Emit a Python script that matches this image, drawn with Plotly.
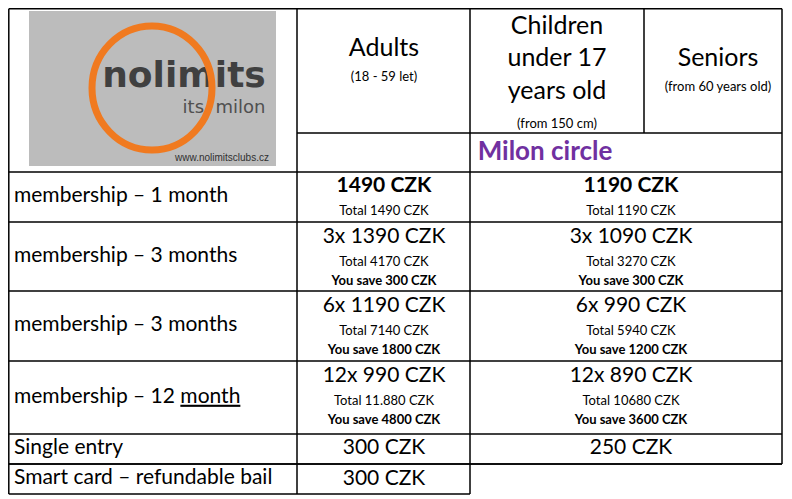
import plotly.graph_objects as go

FONT = "Lato"

# header texts
head_cols = ["Adults", "Children<br>under 17<br>years old", "Seniors"]
head_notes = ["(18 - 59 let)", "(from 150 cm)", "(from 60 years old)"]
group_label = "Milon circle"

# rows
row_labels = ["membership – 1 month", "membership – 3 months", "membership – 3 months",
              "membership – 12 <span style='text-decoration:underline'>month</span>",
              "Single entry", "Smart card – refundable bail"]
adult_price = ["<b>1490 CZK</b>", "3x 1390 CZK", "6x 1190 CZK", "12x 990 CZK", "300 CZK", "300 CZK"]
adult_total = ["Total 1490 CZK", "Total 4170 CZK", "Total 7140 CZK", "Total 11.880 CZK", "", ""]
adult_save = ["", "You save 300 CZK", "You save 1800 CZK", "You save 4800 CZK", "", ""]
child_price = ["<b>1190 CZK</b>", "3x 1090 CZK", "6x 990 CZK", "12x 890 CZK", "250 CZK", ""]
child_total = ["Total 1190 CZK", "Total 3270 CZK", "Total 5940 CZK", "Total 10680 CZK", "", ""]
child_save = ["", "You save 300 CZK", "You save 1200 CZK", "You save 3600 CZK", "", ""]

# layout grid (pixels)
row_tops = [172, 222, 291, 361, 434, 464]
row_bots = [222, 291, 361, 434, 464, 494]
x_adult, x_child = 384, 631

fig = go.Figure()

def txt(xs, ys, texts, size, color="black"):
    fig.add_trace(go.Scatter(x=xs, y=ys, text=texts, mode="text", textposition="middle center",
                             textfont=dict(family=FONT, size=size, color=color),
                             hoverinfo="skip", showlegend=False))

# header
txt([384, 557, 718], [50, 60, 60], head_cols, 25)
txt([384, 557, 718], [78, 125, 88], head_notes, 13)
txt([545], [153], ["<b>" + group_label + "</b>"], 26, "#7030A0")

for i, lab in enumerate(row_labels):
    top, bot = row_tops[i], row_bots[i]
    mid = (top + bot) / 2
    fig.add_trace(go.Scatter(x=[14], y=[mid], text=[lab], mode="text", textposition="middle right",
                             textfont=dict(family=FONT, size=21, color="black"),
                             hoverinfo="skip", showlegend=False))
    has_total = adult_total[i] != ""
    has_save = adult_save[i] != ""
    if has_save:
        py, ty, sy = top + 16, top + 41, top + 60
    elif has_total:
        py, ty, sy = top + 15, top + 40, None
    else:
        py, ty, sy = mid, None, None
    if i == 5:
        py = mid + 1
    txt([x_adult, x_child], [py, py], [adult_price[i], child_price[i]], 21)
    if ty:
        txt([x_adult, x_child], [ty, ty], [adult_total[i], child_total[i]], 13)
    if sy:
        txt([x_adult, x_child], [sy, sy], ["<b>" + adult_save[i] + "</b>", "<b>" + child_save[i] + "</b>"], 13)

# table lines
def seg(x0, y0, x1, y1, w=1.5):
    fig.add_shape(type="line", x0=x0, y0=y0, x1=x1, y1=y1, line=dict(color="black", width=w))

R = 782
seg(8.8, 8.8, R, 8.8)
seg(8.8, 8.8, 8.8, 494)
seg(297, 8.8, 297, 494)
seg(470, 8.8, 470, 494)
seg(644, 8.8, 644, 133)
seg(R, 8.8, R, 464)
seg(297, 133, R, 133)
for y in row_tops:
    seg(8.8, y, R, y)
seg(8.8, 464, R, 464)
seg(8.8, 494, 470, 494)

# logo
fig.add_shape(type="rect", x0=29, y0=11, x1=276, y1=166, fillcolor="#bcbcbc", line=dict(width=0), layer="below")
fig.add_shape(type="circle", x0=92, y0=26, x1=212, y1=150, line=dict(color="#f07a20", width=7))
fig.add_trace(go.Scatter(x=[184], y=[78], text=["<b>nolimits</b>"], mode="text",
                         textfont=dict(family="DejaVu Sans", size=36, color="#404040"),
                         hoverinfo="skip", showlegend=False))
fig.add_trace(go.Scatter(x=[224], y=[108], text=["its  milon"], mode="text",
                         textfont=dict(family="DejaVu Sans", size=18, color="#505050"),
                         hoverinfo="skip", showlegend=False))
fig.add_trace(go.Scatter(x=[222], y=[158], text=["www.nolimitsclubs.cz"], mode="text",
                         textfont=dict(family="Liberation Sans", size=10, color="#303030"),
                         hoverinfo="skip", showlegend=False))

# page has an 8px body margin, so the figure is 8px smaller and ranges start at 8
fig.update_layout(width=784, height=491, margin=dict(l=0, r=0, t=0, b=0),
                  plot_bgcolor="white", paper_bgcolor="white",
                  xaxis=dict(range=[8, 792], visible=False, fixedrange=True),
                  yaxis=dict(range=[499, 8], visible=False, fixedrange=True))
fig.write_html("out.html")
